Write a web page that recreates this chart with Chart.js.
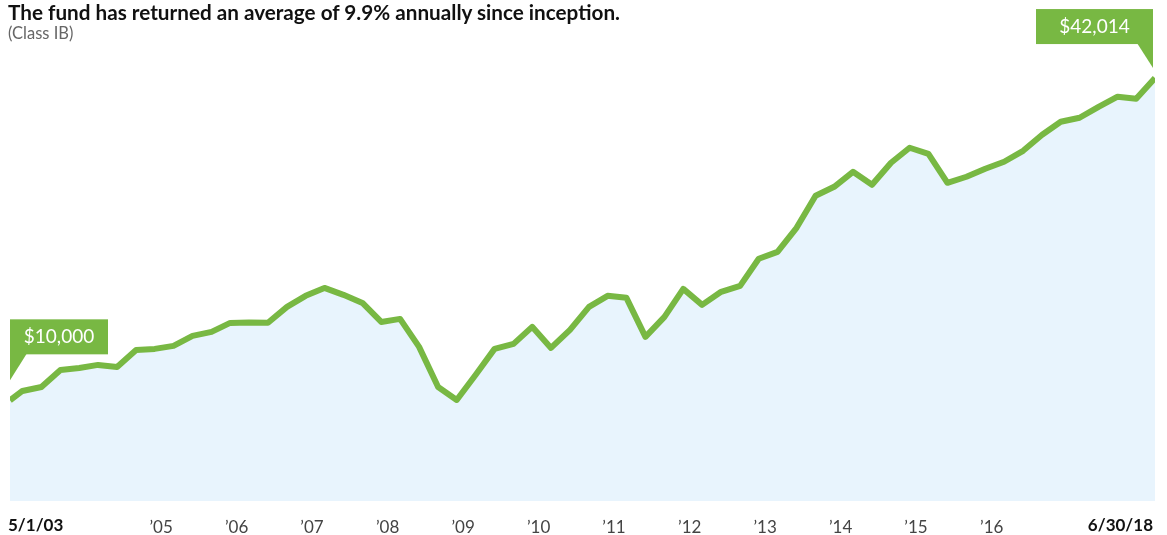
<!DOCTYPE html>
<html>
<head>
<meta charset="utf-8">
<script src="https://cdn.jsdelivr.net/npm/chart.js@4"></script>
<style>
  body { margin: 0; background: #fff; }
  #wrap { position: relative; width: 1167px; height: 535px; }
  #title { position: absolute; left: 8px; top: 0px; font: 700 20.7px Lato, sans-serif; color: #111; white-space: nowrap; }
  #subtitle { position: absolute; left: 8px; top: 23px; font: 400 16.5px Lato, sans-serif; color: #666; }
  canvas { position: absolute; left: 0; top: 0; }
</style>
</head>
<body>
<div id="wrap">
  <canvas id="growthChart" width="1167" height="535"></canvas>
  <div id="title">The fund has returned an average of 9.9% annually since inception.</div>
  <div id="subtitle">(Class IB)</div>
</div>
<script>
// Quarter-end dates from inception (5/1/03) to 6/30/18
const dates = [
  '2003-05-01', '2003-06-30', '2003-09-30', '2003-12-31',
  '2004-03-31', '2004-06-30', '2004-09-30', '2004-12-31',
  '2005-03-31', '2005-06-30', '2005-09-30', '2005-12-31',
  '2006-03-31', '2006-06-30', '2006-09-30', '2006-12-31',
  '2007-03-31', '2007-06-30', '2007-09-30', '2007-12-31',
  '2008-03-31', '2008-06-30', '2008-09-30', '2008-12-31',
  '2009-03-31', '2009-06-30', '2009-09-30', '2009-12-31',
  '2010-03-31', '2010-06-30', '2010-09-30', '2010-12-31',
  '2011-03-31', '2011-06-30', '2011-09-30', '2011-12-31',
  '2012-03-31', '2012-06-30', '2012-09-30', '2012-12-31',
  '2013-03-31', '2013-06-30', '2013-09-30', '2013-12-31',
  '2014-03-31', '2014-06-30', '2014-09-30', '2014-12-31',
  '2015-03-31', '2015-06-30', '2015-09-30', '2015-12-31',
  '2016-03-31', '2016-06-30', '2016-09-30', '2016-12-31',
  '2017-03-31', '2017-06-30', '2017-09-30', '2017-12-31',
  '2018-03-31', '2018-06-30'
];

// Value of a $10,000 investment
const values = [
  10000, 10930, 11330, 13020,
  13220, 13520, 13320, 15010,
  15110, 15410, 16400, 16800,
  17690, 17720, 17700, 19280,
  20380, 21170, 20480, 19680,
  17790, 18090, 15310, 11330,
  10040, 12520, 15110, 15610,
  17300, 15210, 17000, 19280,
  20380, 20180, 16300, 18290,
  21070, 19480, 20780, 21370,
  24060, 24750, 27140, 30320,
  31210, 32700, 31410, 33600,
  35090, 34490, 31610, 32210,
  33000, 33700, 34790, 36380,
  37670, 38070, 39160, 40160,
  39960, 42014
];

// Year ticks on the inception anniversary
const tickDates = [
  '2005-05-01', '2006-05-01', '2007-05-01', '2008-05-01', '2009-05-01', '2010-05-01',
  '2011-05-01', '2012-05-01', '2013-05-01', '2014-05-01', '2015-05-01', '2016-05-01'
];
const tickLabels = ['\u201905', '\u201906', '\u201907', '\u201908', '\u201909', '\u201910',
  '\u201911', '\u201912', '\u201913', '\u201914', '\u201915', '\u201916'];
const startLabel = '5/1/03';
const endLabel = '6/30/18';
const startCallout = '$10,000';
const endCallout = '$42,014';

const GREEN = '#78b843';
const FONT = 'Lato, sans-serif';

const toTime = d => Date.parse(d + 'T00:00:00Z');

// Draws the two value callouts and the bold start/end date labels
const calloutPlugin = {
    id: 'callouts',
    afterDatasetsDraw(chart) {
        const ctx = chart.ctx;
        const pts = chart.getDatasetMeta(0).data;
        const first = pts[0];
        const last = pts[pts.length - 1];
        ctx.save();

        // start callout, box above and right of the first point
        let left = first.x, bottom = first.y - 46, w = 98, h = 35;
        ctx.fillStyle = GREEN;
        ctx.fillRect(left, bottom - h, w, h);
        ctx.beginPath();
        ctx.moveTo(left, bottom - 1);
        ctx.lineTo(left + 17, bottom - 1);
        ctx.lineTo(left, bottom + 26);
        ctx.closePath();
        ctx.fill();
        ctx.fillStyle = '#fff';
        ctx.font = '400 19px ' + FONT;
        ctx.textAlign = 'center';
        ctx.textBaseline = 'middle';
        ctx.fillText(startCallout, left + w / 2, bottom - h / 2);

        // end callout, box above and left of the last point
        let right = last.x - 2;
        bottom = last.y - 34;
        w = 117;
        ctx.fillStyle = GREEN;
        ctx.fillRect(right - w, bottom - h, w, h);
        ctx.beginPath();
        ctx.moveTo(right - 16, bottom - 1);
        ctx.lineTo(right, bottom - 1);
        ctx.lineTo(right, bottom + 24);
        ctx.closePath();
        ctx.fill();
        ctx.fillStyle = '#fff';
        ctx.fillText(endCallout, right - w / 2, bottom - h / 2);

        // bold date labels at both ends of the x axis
        const xs = chart.scales.x;
        ctx.fillStyle = '#111';
        ctx.font = '700 17px ' + FONT;
        ctx.textBaseline = 'middle';
        ctx.textAlign = 'left';
        ctx.fillText(startLabel, xs.getPixelForValue(toTime(dates[0])) - 2, 526);
        ctx.textAlign = 'right';
        ctx.fillText(endLabel, xs.getPixelForValue(toTime(dates[dates.length - 1])) - 2, 526);
        ctx.restore();
    }
};

function renderGrowthChart() {
    const ctx = document.getElementById('growthChart').getContext('2d');
    new Chart(ctx, {
        type: 'line',
        data: {
            datasets: [{
                data: dates.map((d, i) => ({ x: toTime(d), y: values[i] })),
                borderColor: GREEN,
                borderWidth: 6,
                backgroundColor: '#e8f4fd',
                fill: 'origin',
                pointRadius: 0,
                tension: 0,
                borderJoinStyle: 'round',
            }],
        },
        options: {
            responsive: false,
            animation: false,
            layout: { padding: { left: 10, right: 12, top: 48, bottom: 0 } },
            plugins: {
                legend: { display: false },
                tooltip: { enabled: false },
            },
            scales: {
                x: {
                    type: 'linear',
                    min: toTime(dates[0]),
                    max: toTime(dates[dates.length - 1]),
                    grid: { display: false, drawTicks: false },
                    border: { display: false },
                    afterBuildTicks: scale => {
                        scale.ticks = tickDates.map(d => ({ value: toTime(d) }));
                    },
                    afterFit: scale => { scale.height = 34; },
                    ticks: {
                        autoSkip: false,
                        maxRotation: 0,
                        padding: 16,
                        color: '#444',
                        font: { family: FONT, size: 17 },
                        callback: (value, index) => tickLabels[index],
                    },
                },
                y: {
                    display: false,
                    min: 0,
                    max: 45000,
                },
            },
        },
        plugins: [calloutPlugin],
    });
}

document.addEventListener('DOMContentLoaded', renderGrowthChart);
</script>
</body>
</html>
